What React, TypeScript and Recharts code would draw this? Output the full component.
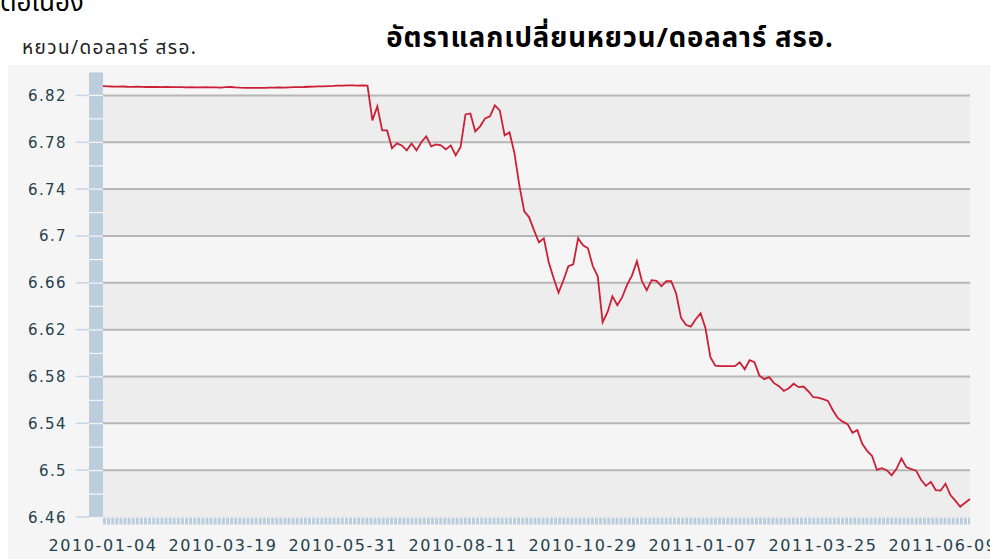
import React from 'react';
import { LineChart, Line, XAxis, YAxis, ReferenceArea, ReferenceLine } from 'recharts';

// one point every 2 trading days, starting 2010-01-04
const STEP = 2;

const rates = [
  6.8279, 6.8278, 6.8276, 6.8275, 6.8276, 6.8274, 6.8273, 6.8274, 6.8273, 6.8272,
  6.8273, 6.8272, 6.8271, 6.8273, 6.8271, 6.827, 6.8271, 6.8269, 6.827, 6.8268,
  6.8269, 6.827, 6.8268, 6.8269, 6.8267, 6.827, 6.8272, 6.8268, 6.8266, 6.8265,
  6.8264, 6.8265, 6.8264, 6.8265, 6.8266, 6.8267, 6.8268, 6.8267, 6.8269, 6.827,
  6.8271, 6.8272, 6.8274, 6.8275, 6.8277, 6.8278, 6.828, 6.8281, 6.8284, 6.8283,
  6.8285, 6.8286, 6.8284, 6.8285, 6.8283,
  6.7987, 6.8106, 6.7901, 6.7901, 6.7748, 6.779, 6.7773, 6.7731, 6.779, 6.7731,
  6.7802, 6.785, 6.7765, 6.7782, 6.7773, 6.7739, 6.7773, 6.7688, 6.7759, 6.8038,
  6.8046, 6.7893, 6.7936, 6.8004, 6.8021, 6.8115, 6.8072, 6.7859, 6.7884, 6.7705,
  6.7432, 6.721, 6.7159, 6.7048, 6.6946, 6.698, 6.6775, 6.6639, 6.6515, 6.6622,
  6.6741, 6.6758, 6.698, 6.692, 6.6895, 6.6741, 6.6656, 6.6263, 6.6349, 6.6485,
  6.6408, 6.6477, 6.6583, 6.6664, 6.6784, 6.6617, 6.6536, 6.6622, 6.6616, 6.657,
  6.6613, 6.6613, 6.6511, 6.6302, 6.6242, 6.6225, 6.6289, 6.634, 6.6212, 6.5965,
  6.5892, 6.5888, 6.5888, 6.5888, 6.5888, 6.5922, 6.5862, 6.5939, 6.5922, 6.5807,
  6.5777, 6.5794, 6.5743, 6.5717, 6.5676, 6.57, 6.5738, 6.5709, 6.5714, 6.5674,
  6.5623, 6.562, 6.5606, 6.5591, 6.5512, 6.5446, 6.5414, 6.5393, 6.5319, 6.5342,
  6.5225, 6.5165, 6.5121, 6.5002, 6.5017, 6.5, 6.4956, 6.5011, 6.51, 6.5026,
  6.5009, 6.4996, 6.4918, 6.4866, 6.49, 6.483, 6.4826, 6.4884, 6.4787, 6.474,
  6.4687, 6.4722, 6.4753,
];

const tickDays = [0, 49, 98, 147, 196, 245, 294, 343];
const tickLabels = [
  '2010-01-04', '2010-03-19', '2010-05-31', '2010-08-11',
  '2010-10-29', '2011-01-07', '2011-03-25', '2011-06-09',
];
const yTicks = [6.46, 6.5, 6.54, 6.58, 6.62, 6.66, 6.7, 6.74, 6.78, 6.82];

const data = rates.map((rate, i) => ({ day: i * STEP, rate }));

// darker bands start at every other tick from the bottom
const darkBands = yTicks.filter((_, i) => i % 2 === 0).map((v, j) => [v, yTicks[j * 2 + 1]]);

const labelColor = '#24404b';
const axisBlue = '#bccddd';
const thai = "Tahoma, 'Noto Sans Thai', 'Leelawadee UI', 'Noto Sans', sans-serif";

const YTick = ({ x, y, payload }: any) => (
  <g>
    <line x1={x - 27} x2={x - 14} y1={y} y2={y} stroke="#c6d6e6" strokeWidth={1.5} />
    <text
      x={x - 36}
      y={y + 5.5}
      textAnchor="end"
      fill={labelColor}
      fontSize={15}
      fontFamily="'DejaVu Sans', Verdana, sans-serif"
      letterSpacing={1.4}
    >
      {payload.value}
    </text>
  </g>
);

const XTick = ({ x, y, payload, index }: any) => (
  <text
    x={x}
    y={y + 34}
    textAnchor="middle"
    fill={labelColor}
    fontSize={16}
    fontFamily="'DejaVu Sans', Verdana, sans-serif"
    letterSpacing={1.6}
  >
    {tickLabels[tickDays.indexOf(payload.value)] ?? tickLabels[index]}
  </text>
);

export default function App() {
  return (
    <div style={{ position: 'fixed', left: 0, top: 0, width: 990, height: 559, background: '#fff', overflow: 'hidden' }}>
      <div style={{ position: 'absolute', left: 0, top: -17, fontSize: 26, fontFamily: thai, color: '#000', whiteSpace: 'nowrap' }}>
        ต่อเนื่อง
      </div>
      <div style={{ position: 'absolute', left: 22, top: 34, fontSize: 19, letterSpacing: 1.4, fontFamily: thai, color: '#222', whiteSpace: 'nowrap' }}>
        หยวน/ดอลลาร์ สรอ.
      </div>
      <div style={{ position: 'absolute', left: 310, width: 600, top: 18, textAlign: 'center', fontSize: 27.5, letterSpacing: 0.9, fontWeight: 'bold', fontFamily: thai, color: '#000', whiteSpace: 'nowrap' }}>
        อัตราแลกเปลี่ยนหยวน/ดอลลาร์ สรอ.
      </div>
      <div style={{ position: 'absolute', left: 8, top: 65, width: 982, height: 494, background: '#f5f5f5' }}>
        <LineChart width={982} height={494} data={data} margin={{ top: 7, right: 20, left: 0, bottom: 0 }}>
          {darkBands.map(([lo, hi]) => (
            <ReferenceArea key={`band-${lo}`} y1={lo} y2={hi} fill="#ededed" fillOpacity={1} stroke="none" />
          ))}
          {yTicks.slice(1).map((v) => (
            <ReferenceLine key={`grid-${v}`} y={v} stroke="#b6b6b6" strokeWidth={2} />
          ))}
          <XAxis
            type="number"
            dataKey="day"
            domain={[0, 354]}
            ticks={tickDays}
            interval={0}
            height={42}
            tickSize={0}
            tickMargin={0}
            tickLine={false}
            axisLine={{ stroke: axisBlue, strokeWidth: 7, strokeDasharray: '3 1.1', transform: 'translate(0,4)' } as any}
            tick={<XTick />}
          />
          <YAxis
            type="number"
            domain={[6.46, 6.84]}
            ticks={yTicks}
            interval={0}
            width={95}
            tickSize={0}
            tickMargin={0}
            tickLine={false}
            axisLine={{ stroke: axisBlue, strokeWidth: 14, strokeDasharray: '22.2 1.25', strokeDashoffset: -0.6, transform: 'translate(-7,0)' } as any}
            tick={<YTick />}
          />
          <Line
            type="linear"
            dataKey="rate"
            stroke="#cc1f36"
            strokeWidth={1.8}
            dot={false}
            activeDot={false}
            isAnimationActive={false}
          />
        </LineChart>
      </div>
    </div>
  );
}
